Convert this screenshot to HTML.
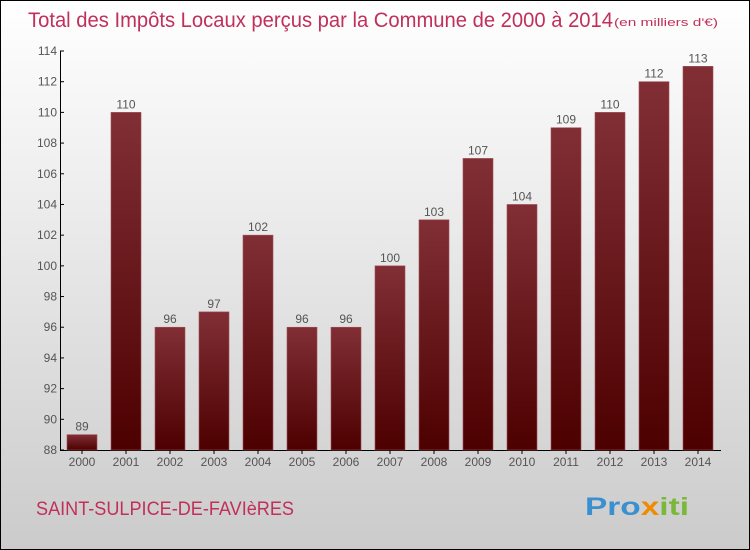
<!DOCTYPE html>
<html><head><meta charset="utf-8"><style>
body{margin:0;}
#wrap{position:relative;width:748px;height:548px;border:1px solid #000;background:linear-gradient(#fff,#f0f0f0 30%,#cbcbcb);font-family:"Liberation Sans",sans-serif;overflow:hidden}
</style></head><body>
<div id="wrap">
<svg id="svg" width="748" height="548" style="position:absolute;left:0;top:0">
<defs><linearGradient id="bg" x1="0" y1="0" x2="0" y2="1"><stop offset="0" stop-color="#812f35"/><stop offset="1" stop-color="#4d0000"/></linearGradient></defs>
<text x="27" y="26" font-size="21" fill="#c0305a" textLength="585" lengthAdjust="spacingAndGlyphs">Total des Impôts Locaux perçus par la Commune de 2000 à 2014</text>
<text x="613" y="25" font-size="11" fill="#c0305a" textLength="104" lengthAdjust="spacingAndGlyphs">(en milliers d'€)</text>
<text x="35" y="514" font-size="19" fill="#c0305a" textLength="258" lengthAdjust="spacingAndGlyphs">SAINT-SULPICE-DE-FAVIèRES</text>
<text x="584" y="514" font-size="25" font-weight="bold" textLength="104" lengthAdjust="spacingAndGlyphs"><tspan fill="#3a8fd0">Pro</tspan><tspan fill="#f08a00">x</tspan><tspan fill="#7ab83a">iti</tspan></text>
<g id="g"></g>
</svg>
</div>
<script>
const years=["2000","2001","2002","2003","2004","2005","2006","2007","2008","2009","2010","2011","2012","2013","2014"];
const values=[89,110,96,97,102,96,96,100,103,107,104,109,110,112,113];
const yTicks=[88,90,92,94,96,98,100,102,104,106,108,110,112,114];
const NS="http://www.w3.org/2000/svg";
const g=document.getElementById('g');
const y0=449,yTop=50,vMin=88,vMax=114;
function yS(v){return y0-(v-vMin)/(vMax-vMin)*(y0-yTop);}
function xS(i){return 81+i*44;}
function el(t,a){const e=document.createElementNS(NS,t);for(const k in a)e.setAttribute(k,a[k]);g.appendChild(e);return e;}
const ax=el('path',{d:`M59.5 ${yTop} V${y0+0.5} H720`,stroke:'#000',fill:'none'});


yTicks.forEach(v=>{
 const t=el('line',{x1:59,x2:63,y1:yS(v),y2:yS(v),stroke:'#000'});
 
 
 const l=el('text',{x:56,y:yS(v)+4,'font-size':12,fill:'#555','text-anchor':'end'});
 l.textContent=v;
 
 
});
years.forEach((yr,i)=>{
 const v=values[i],x=xS(i);
 const b=el('rect',{x:x-15,y:yS(v),width:30,height:y0-yS(v),fill:'url(#bg)',stroke:'#a05058','stroke-width':0.6});
 
 
 const vl=el('text',{x:x,y:yS(v)-4,'font-size':12,fill:'#555','text-anchor':'middle'});
 vl.textContent=v;
 
 
 const xl=el('text',{x:x,y:465,'font-size':12,fill:'#555','text-anchor':'middle'});
 xl.textContent=yr;
 
 
 const tk=el('line',{x1:x,x2:x,y1:y0,y2:y0+4,stroke:'#000'});
 
 
});
</script>
</body></html>
